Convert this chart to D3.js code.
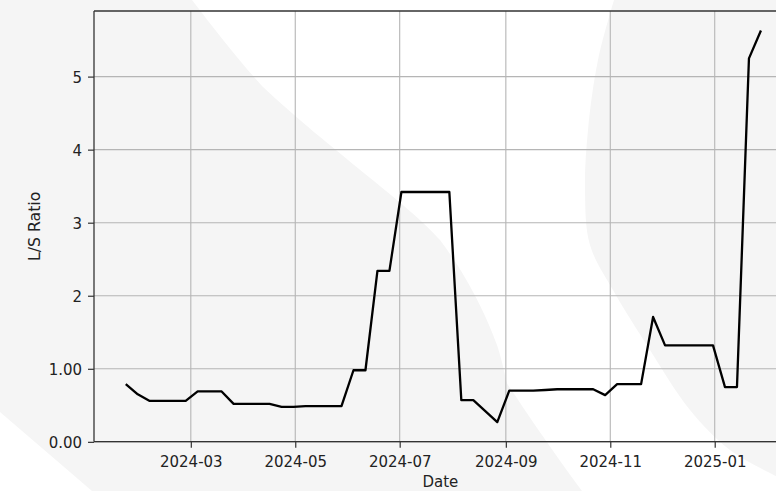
<!DOCTYPE html>
<html>
<head>
<meta charset="utf-8">
<script src="https://cdn.jsdelivr.net/npm/d3@7"></script>
<style>
  html, body { margin: 0; padding: 0; background: #ffffff; }
  svg { display: block; }
  text { font-family: "DejaVu Sans", sans-serif; fill: #222; }
</style>
</head>
<body>
<svg id="chart" width="776" height="491"></svg>
<script>
// ---- data (weekly, Tuesdays) ----
const startDate = "2024-01-23";
const ratioValues = [
  0.79, 0.65, 0.56, 0.56, 0.56, 0.56, 0.69, 0.69, 0.69, 0.52,
  0.52, 0.52, 0.52, 0.48, 0.48, 0.49, 0.49, 0.49, 0.49, 0.98,
  0.98, 2.34, 2.34, 3.42, 3.42, 3.42, 3.42, 3.42, 0.57, 0.57,
  0.42, 0.27, 0.70, 0.70, 0.70, 0.71, 0.72, 0.72, 0.72, 0.72,
  0.64, 0.79, 0.79, 0.79, 1.71, 1.32, 1.32, 1.32, 1.32, 1.32,
  0.75, 0.75, 5.25, 5.63
];
const yTickValues = [0, 1, 2, 3, 4, 5];
const yTickLabels = ["0.00", "1.00", "2", "3", "4", "5"];
const xTickDates = ["2024-03-01", "2024-05-01", "2024-07-01", "2024-09-01", "2024-11-01", "2025-01-01"];
const xTickLabels = ["2024-03", "2024-05", "2024-07", "2024-09", "2024-11", "2025-01"];
const xLabel = "Date";
const yLabel = "L/S Ratio";

const parse = d3.utcParse("%Y-%m-%d");
const t0 = parse(startDate);
const dates = ratioValues.map((_, i) => d3.utcDay.offset(t0, 7 * i));
const series = ratioValues.map((v, i) => ({ date: dates[i], value: v }));

const svg = d3.select("#chart");
const W = 776, H = 491;

// ---- watermark background ----
const bg = svg.append("g");
bg.append("rect").attr("width", W).attr("height", H).attr("fill", "#ffffff");
const wm = "#f5f5f5";
bg.append("path").attr("fill", wm)
  .attr("d", "M0,0 L192,0 C215,30 240,62 262,86 C330,150 410,205 440,240 C470,280 488,320 497,345 C505,370 505,380 508,385 C525,410 548,445 582,491 L92,491 L0,412 Z");
const rightEdge = [[614,0],[598,60],[588,130],[585,190],[590,245],[613,290],[650,350],[690,410],[730,450],[776,476]];
const rPath = d3.line().curve(d3.curveCatmullRom)(rightEdge) + " L776,0 Z";
bg.append("path").attr("fill", wm).attr("d", rPath);

// ---- scales ----
const mLeft = 94, mTop = 11, mBottom = 441.7, mRight = 792.7;
const tExt = d3.extent(dates);
const span = tExt[1] - tExt[0];
const x = d3.scaleUtc()
  .domain([new Date(+tExt[0] - 0.05 * span), new Date(+tExt[1] + 0.05 * span)])
  .range([mLeft, mRight]);
const vExt = d3.extent(ratioValues);
const vSpan = vExt[1] - vExt[0];
const y = d3.scaleLinear()
  .domain([vExt[0] - 0.05 * vSpan, vExt[1] + 0.05 * vSpan])
  .range([mBottom, mTop]);

const xTicks = xTickDates.map(parse);

// ---- grid ----
const grid = svg.append("g").attr("stroke", "#b5b5b5").attr("stroke-width", 1.1);
grid.selectAll("line.gx").data(xTicks).join("line")
  .attr("x1", d => x(d)).attr("x2", d => x(d))
  .attr("y1", mTop).attr("y2", mBottom);
grid.selectAll("line.gy").data(yTickValues).join("line")
  .attr("x1", mLeft).attr("x2", mRight)
  .attr("y1", d => y(d)).attr("y2", d => y(d));

// ---- axes ----
const FS = 15, SY = 1.1;
const xAxis = d3.axisBottom(x).tickValues(xTicks)
  .tickFormat((d, i) => xTickLabels[i]).tickSize(6).tickPadding(5);
const gx = svg.append("g").attr("transform", `translate(0,${mBottom})`).call(xAxis);
const yAxis = d3.axisLeft(y).tickValues(yTickValues)
  .tickFormat((d, i) => yTickLabels[i]).tickSize(6).tickPadding(6);
const gy = svg.append("g").attr("transform", `translate(${mLeft},0)`).call(yAxis);
[gx, gy].forEach(g => {
  g.select(".domain").remove();
  g.selectAll(".tick line").attr("stroke", "#333").attr("stroke-width", 1.2);
  g.selectAll(".tick text").attr("font-size", FS).attr("fill", "#222")
    .style("font-family", "DejaVu Sans, sans-serif");
});
gx.selectAll(".tick text").attr("dy", null).attr("y", 25.5 / SY)
  .attr("transform", `scale(1,${SY})`);
gy.selectAll(".tick text").attr("dy", "0.35em").attr("y", null)
  .attr("transform", `scale(1,${SY})`);

// spines
const sp = svg.append("g").attr("stroke", "#333").attr("stroke-width", 1.3).attr("fill", "none");
sp.append("line").attr("x1", mLeft).attr("x2", mLeft).attr("y1", mTop).attr("y2", mBottom);
sp.append("line").attr("x1", mLeft).attr("x2", mRight).attr("y1", mBottom).attr("y2", mBottom);
sp.append("line").attr("x1", mLeft).attr("x2", mRight).attr("y1", mTop).attr("y2", mTop);
sp.append("line").attr("x1", mRight).attr("x2", mRight).attr("y1", mTop).attr("y2", mBottom);

// ---- line ----
const line = d3.line().x(d => x(d.date)).y(d => y(d.value));
svg.append("path").datum(series)
  .attr("fill", "none").attr("stroke", "#000").attr("stroke-width", 2.3)
  .attr("stroke-linejoin", "round")
  .attr("d", line);

// ---- labels ----
svg.append("text")
  .attr("transform", `translate(${(mLeft + mRight) / 2 - 3},486.8) scale(1,1.06)`)
  .attr("text-anchor", "middle").attr("font-size", FS).text(xLabel);
svg.append("text")
  .attr("transform", `translate(39.5,${(mTop + mBottom) / 2}) rotate(-90) scale(1.05,1)`)
  .attr("text-anchor", "middle").attr("font-size", FS).text(yLabel);
</script>
</body>
</html>
